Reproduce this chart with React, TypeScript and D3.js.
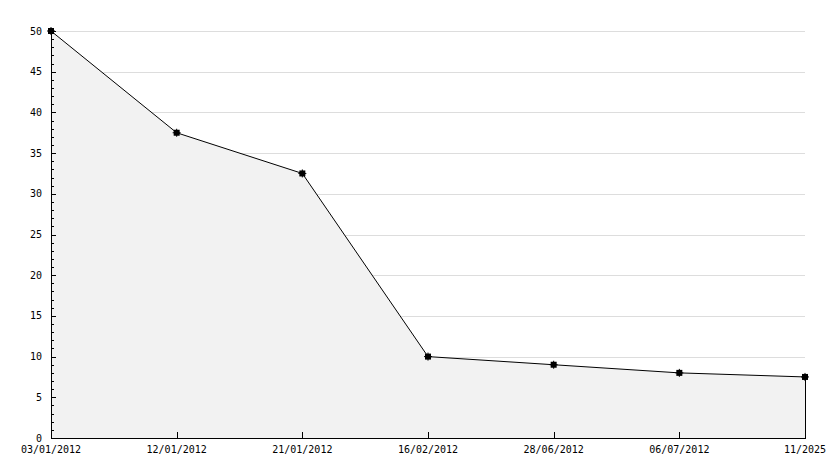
import React from "react";
import * as d3 from "d3";

const categories = ["03/01/2012", "12/01/2012", "21/01/2012", "16/02/2012", "28/06/2012", "06/07/2012", "11/2025"];
const values = [50, 37.5, 32.5, 10, 9, 8, 7.5];
const yTicks = [0, 5, 10, 15, 20, 25, 30, 35, 40, 45, 50];

export default function App() {
  const W = 834, H = 468;
  const left = 51, right = 805, top = 31, bottom = 438;
  const x = d3.scalePoint<string>().domain(categories).range([left, right]);
  const y = d3.scaleLinear().domain([0, 50]).range([bottom, top]);
  const pts: [number, number][] = values.map((v, i) => [x(categories[i])!, y(v)]);
  const line = d3.line()(pts)!;
  const area = d3.area<[number, number]>().x(d => d[0]).y0(bottom).y1(d => d[1])(pts)!;
  const minor = d3.range(0, 51, 1).filter(v => v % 5 !== 0);
  const font = "'DejaVu Sans Mono', monospace";
  return (
    <svg width={W} height={H} style={{ position: "absolute", left: 0, top: 0, background: "#fff" }}>
      <rect width={W} height={H} fill="#fff" />
      {yTicks.filter(v => v > 0).map(v => (
        <line key={"g" + v} x1={left} x2={right} y1={Math.round(y(v)) + 0.5} y2={Math.round(y(v)) + 0.5} stroke="#dddddd" strokeWidth={1} />
      ))}
      <path d={area} fill="#f2f2f2" stroke="none" />
      <line x1={right + 0.5} x2={right + 0.5} y1={pts[pts.length - 1][1]} y2={bottom} stroke="#000" />
      <path d={line} fill="none" stroke="#000" strokeWidth={1} />
      {/* axes */}
      <line x1={left + 0.5} x2={left + 0.5} y1={top} y2={bottom + 0.5} stroke="#000" strokeWidth={1} />
      <line x1={left} x2={right + 1} y1={bottom + 0.5} y2={bottom + 0.5} stroke="#000" strokeWidth={1} />
      {yTicks.map(v => (
        <g key={"t" + v}>
          <line x1={left} x2={left + 5} y1={Math.round(y(v)) + 0.5} y2={Math.round(y(v)) + 0.5} stroke="#000" />
          <text x={42} y={y(v)} dy="0.35em" textAnchor="end" fontFamily={font} fontSize={10} fill="#000">{v}</text>
        </g>
      ))}
      {minor.map(v => (
        <line key={"m" + v} x1={left} x2={left + 3} y1={Math.round(y(v)) + 0.5} y2={Math.round(y(v)) + 0.5} stroke="#000" />
      ))}
      {categories.map((c, i) => (
        <g key={"x" + i}>
          {i > 0 && i < categories.length - 1 && (
            <line x1={Math.round(x(c)!) + 0.5} x2={Math.round(x(c)!) + 0.5} y1={bottom} y2={bottom - 6} stroke="#000" />
          )}
          <text x={x(c)!} y={449} dy="0.35em" textAnchor="middle" fontFamily={font} fontSize={10} fill="#000">{c}</text>
        </g>
      ))}
      {pts.map((p, i) => (
        <g key={"p" + i}>
          <rect x={p[0] - 3} y={p[1] - 3} width={6} height={6} fill="#000" />
          <line x1={p[0]} x2={p[0]} y1={p[1] - 4} y2={p[1] + 4} stroke="#000" />
          <line x1={p[0] - 4} x2={p[0] + 4} y1={p[1]} y2={p[1]} stroke="#000" />
        </g>
      ))}
    </svg>
  );
}
